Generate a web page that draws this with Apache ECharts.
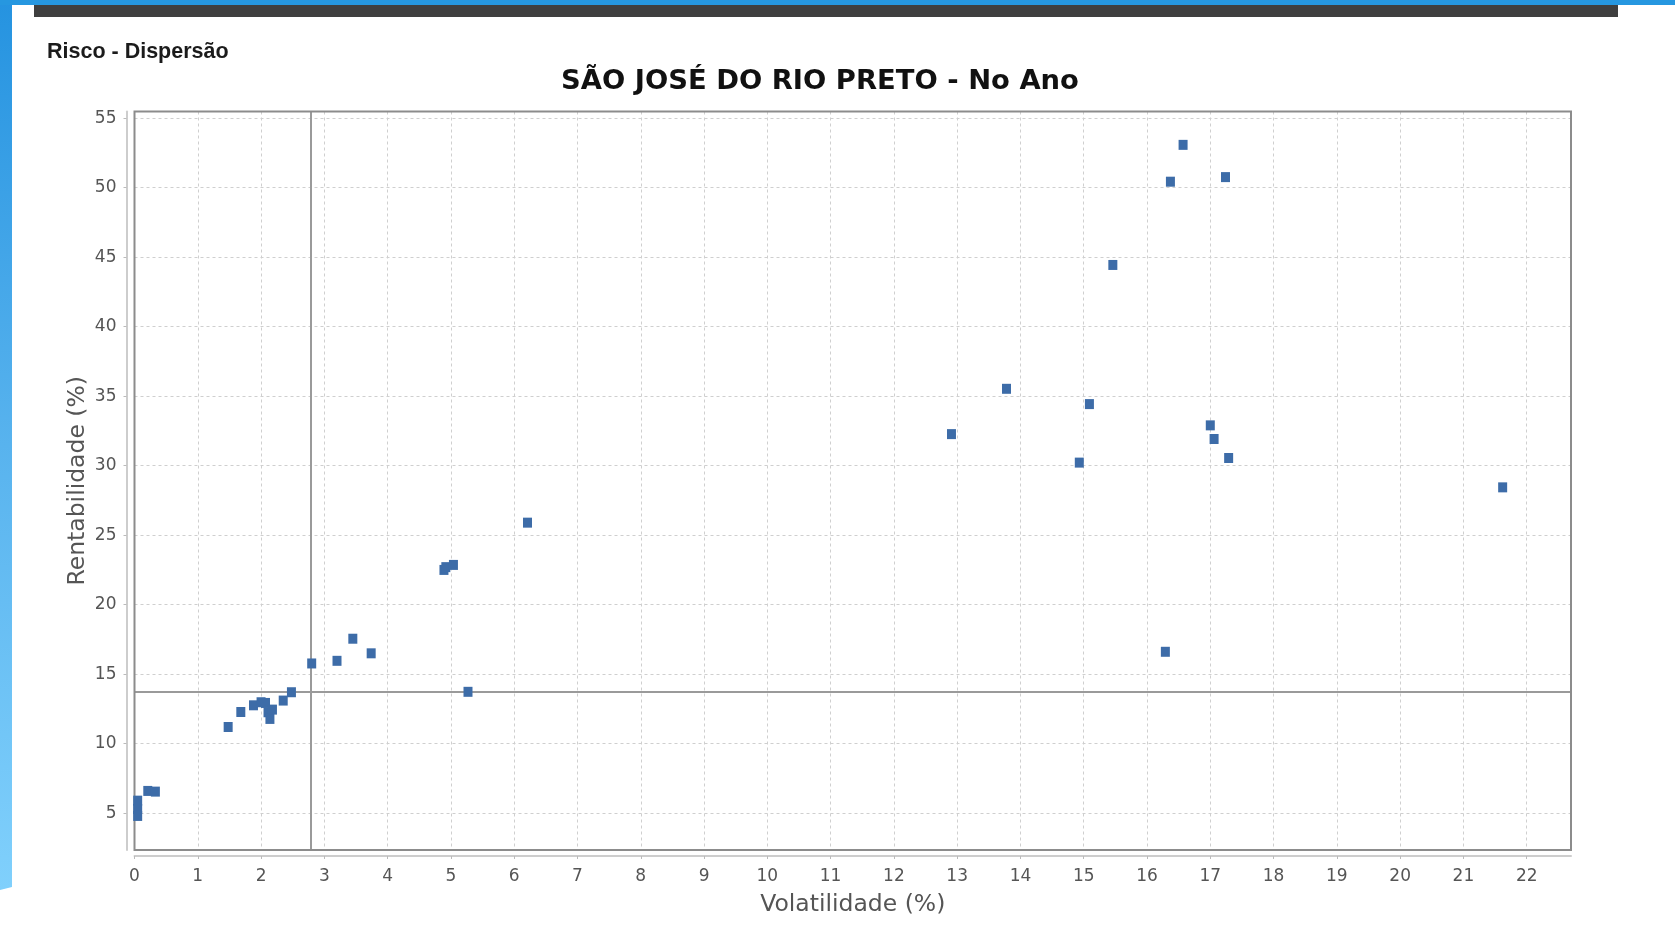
<!DOCTYPE html>
<html>
<head>
<meta charset="utf-8">
<script src="https://cdn.jsdelivr.net/npm/echarts@6/dist/echarts.min.js"></script>
<style>
html,body{margin:0;padding:0;background:#fff;}
#c{width:1675px;height:937px;}
</style>
</head>
<body>
<div id="c"></div>
<script>
// ---- Data ----
const sectionTitle = 'Risco - Dispersão';
const chartTitle = 'SÃO JOSÉ DO RIO PRETO - No Ano';
const xAxisName = 'Volatilidade (%)';
const yAxisName = 'Rentabilidade (%)';

const volatilidade = [
  0.05, 0.05, 0.05, 0.21, 0.33,
  1.48, 1.68, 1.88, 2.00, 2.07, 2.11, 2.14, 2.18, 2.35, 2.48,
  2.80, 3.20, 3.45, 3.74, 4.89, 4.92, 5.04, 5.27, 6.21,
  12.91, 13.78, 14.93, 15.09, 15.46, 16.29, 16.37, 16.57,
  17.00, 17.06, 17.24, 17.29, 21.62
];
const rentabilidade = [
  5.9, 5.3, 4.8, 6.6, 6.55,
  11.2, 12.28, 12.76, 12.98, 12.93, 12.26, 11.78, 12.45, 13.1, 13.7,
  15.77, 15.96, 17.55, 16.5, 22.5, 22.7, 22.86, 13.73, 25.9,
  32.27, 35.53, 30.22, 34.43, 44.44, 16.61, 50.43, 53.08,
  32.9, 31.92, 50.76, 30.55, 28.44
];
const referenciaVolatilidade = [2.79];
const referenciaRentabilidade = [13.72];
const xRange = [0, 22.7];
const yRange = [2.35, 55.48];

// ---- Chart ----
const chart = echarts.init(document.getElementById('c'), null, { renderer: 'canvas' });
const points = volatilidade.map((v, i) => [v, rentabilidade[i]]);
const refLines = referenciaVolatilidade.map(v => ({ xAxis: v }))
  .concat(referenciaRentabilidade.map(v => ({ yAxis: v })));

const tickFont = { fontFamily: 'DejaVu Sans', fontSize: 17, color: '#555' };
const nameFont = { fontFamily: 'DejaVu Sans', fontSize: 23.5, color: '#555' };
const gridLine = { show: true, lineStyle: { color: '#cfcfcf', type: [3, 3], width: 1 } };

const option = {
  backgroundColor: '#ffffff',
  animation: false,
  title: {
    text: chartTitle,
    left: 556,
    top: 63,
    textStyle: { fontFamily: 'DejaVu Sans', fontWeight: 'bold', fontSize: 27.4, color: '#111' }
  },
  grid: {
    left: 134.5, right: 104, top: 111.5, bottom: 87, z: 3,
    show: true, borderColor: '#8c8c8c', borderWidth: 2, backgroundColor: 'transparent'
  },
  xAxis: {
    type: 'value', min: xRange[0], max: xRange[1], interval: 1, offset: 6,
    name: xAxisName, nameLocation: 'middle', nameGap: 37, nameTextStyle: nameFont,
    axisLine: { show: true, onZero: false, lineStyle: { color: '#cdcdcd', width: 2 } },
    axisTick: { show: true, length: 3, lineStyle: { color: '#bbb' } },
    axisLabel: Object.assign({ margin: 12, showMaxLabel: false }, tickFont),
    splitLine: gridLine
  },
  yAxis: {
    type: 'value', min: yRange[0], max: yRange[1], minInterval: 5, maxInterval: 5, offset: 8,
    name: yAxisName, nameLocation: 'middle', nameGap: 37, nameRotate: 90, nameTextStyle: nameFont,
    nameMoveOverlap: false,
    axisLine: { show: true, onZero: false, lineStyle: { color: '#cdcdcd', width: 2 } },
    axisTick: { show: true, length: 3, lineStyle: { color: '#bbb' } },
    axisLabel: Object.assign({ margin: 10, showMinLabel: false, showMaxLabel: false }, tickFont),
    splitLine: gridLine
  },
  series: [
    {
      type: 'scatter', data: [], z: 1, silent: true,
      markLine: {
        z: 1, silent: true, animation: false,
        symbol: ['none', 'none'],
        label: { show: false },
        lineStyle: { color: '#9a9a9a', width: 2, type: 'solid' },
        emphasis: { disabled: true },
        data: refLines
      }
    },
    {
      type: 'scatter', data: points, z: 6,
      symbol: 'rect', symbolSize: [9, 10],
      itemStyle: { color: '#3d6ca8', opacity: 1 }
    }
  ],
  graphic: [
    {
      type: 'polygon', z: 100,
      shape: { points: [[0, 0], [12, 0], [12, 887], [0, 890]] },
      style: {
        fill: new echarts.graphic.LinearGradient(0, 0, 0, 1, [
          { offset: 0, color: '#2593e0' },
          { offset: 0.5, color: '#58b3ee' },
          { offset: 1, color: '#80d0fc' }
        ])
      }
    },
    { type: 'rect', z: 100, shape: { x: 0, y: 0, width: 1675, height: 5 }, style: { fill: '#2697e0' } },
    { type: 'rect', z: 100, shape: { x: 34, y: 5, width: 1584, height: 12 }, style: { fill: '#3f3f3f' } },
    {
      type: 'text', z: 100, x: 47, y: 52,
      style: {
        text: sectionTitle, fill: '#1b1b1b',
        font: 'bold 21.5px "Liberation Sans", Arial, sans-serif',
        textAlign: 'left', textVerticalAlign: 'middle'
      }
    }
  ]
};
chart.setOption(option);
</script>
</body>
</html>
